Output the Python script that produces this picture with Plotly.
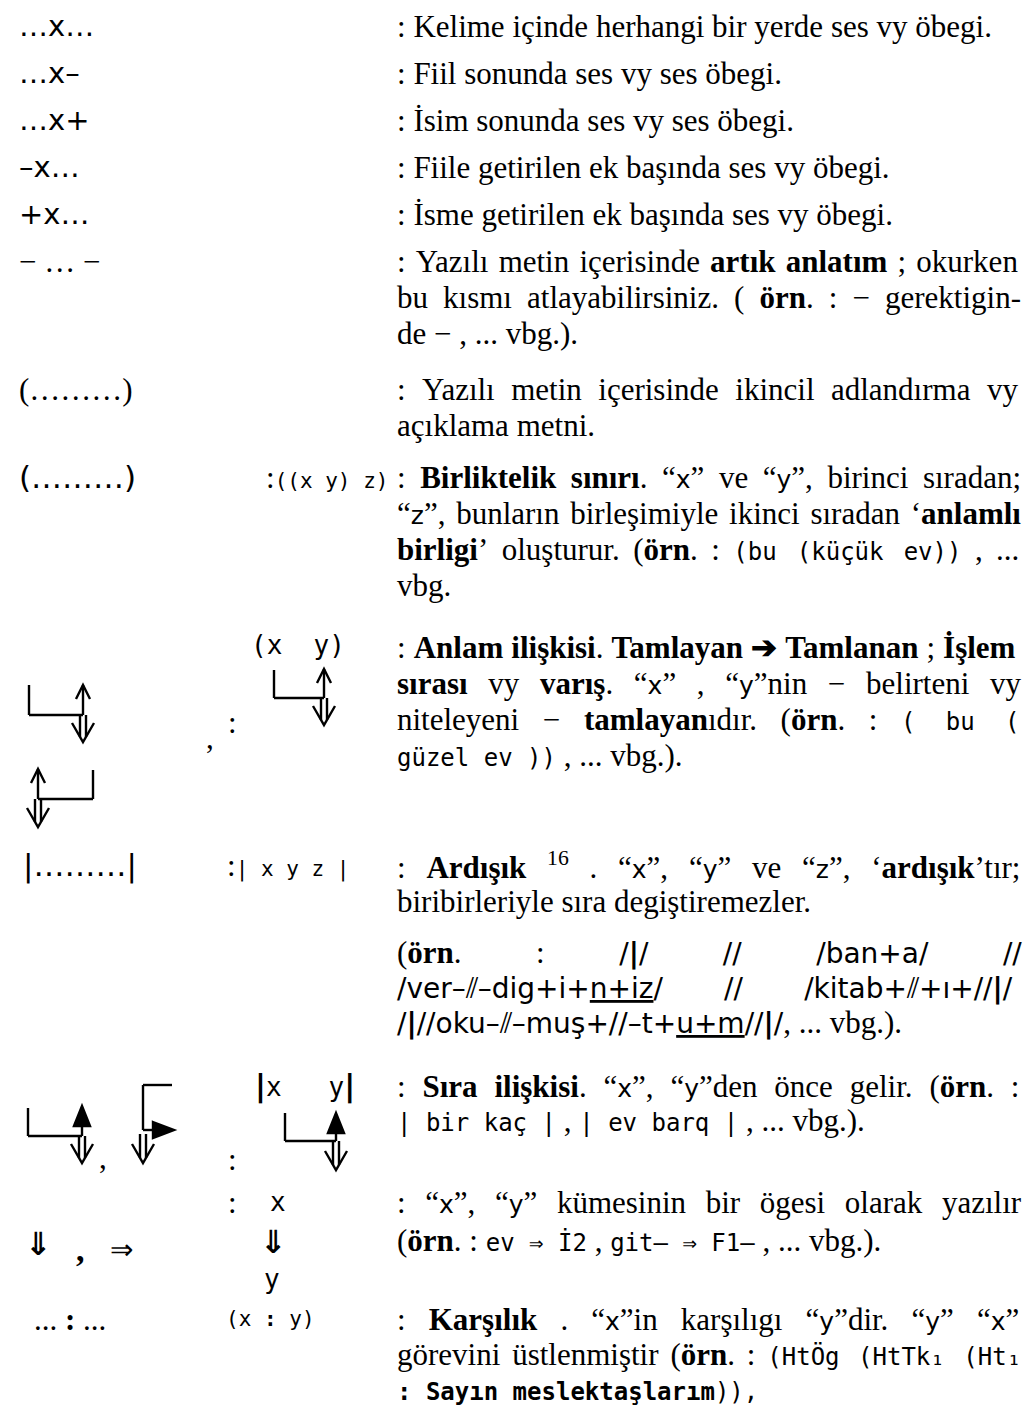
import re
import plotly.graph_objects as go

# ---------------------------------------------------------------- content
left_symbols = ["…x…", "…x–", "…x+", "–x…", "+x…", "− … −", "(………)", "(………)", "|………|"]
mid_row8 = ":((x y) z)"
mid_row10 = ":| x y z |"
mid_row9 = "(x\u00a0\u00a0y)"
mid_row11 = ("<span style=\"font-family:DejaVu Sans;font-weight:bold;font-size:30px\">|</span>"
             "x\u00a0\u00a0\u00a0y"
             "<span style=\"font-family:DejaVu Sans;font-weight:bold;font-size:30px\">|</span>")
mid_row12 = ["x", "⇓", "y"]
mid_row13 = "(x <b>:</b> y)"
left_row13 = "... <b>:</b> ..."

# inline markup: {b:bold} {s:sans} {m:mono} {M:mono bold} {c:example font}
# {cb:example font heavy} {cu:example font underlined} {sup:superscript}
paragraphs = [
    [": Kelime içinde herhangi bir yerde ses vy öbegi."],
    [": Fiil sonunda ses vy ses öbegi."],
    [": İsim sonunda ses vy ses öbegi."],
    [": Fiile getirilen ek başında ses vy öbegi."],
    [": İsme getirilen ek başında ses vy öbegi."],
    [": Yazılı metin içerisinde {b:artık anlatım} ; okurken",
     "bu kısmı atlayabilirsiniz. ( {b:örn}. : − gerektigin-",
     "de − , ... vbg.)."],
    [": Yazılı metin içerisinde ikincil adlandırma vy",
     "açıklama metni."],
    [": {b:Birliktelik sınırı}. “{s:x}” ve “{s:y}”, birinci sıradan;",
     "“{s:z}”, bunların birleşimiyle ikinci sıradan ‘{b:anlamlı}",
     "{b:birligi}’ oluşturur. ({b:örn}. : {m:(bu (küçük ev))} , ...",
     "vbg."],
    [": {b:Anlam ilişkisi}. {b:Tamlayan ➔ Tamlanan} ; {b:İşlem}",
     "{b:sırası} vy {b:varış}. “{s:x}” , “{s:y}”nin − belirteni vy",
     "niteleyeni − {b:tamlayan}ıdır. ({b:örn}. : {m:( bu (}",
     "{m:güzel ev ))} , ... vbg.)."],
    [": {b:Ardışık} {sup:16} . “{s:x}”, “{s:y}” ve “{s:z}”, ‘{b:ardışık}’tır;",
     "biribirleriyle sıra degiştiremezler."],
    ["({b:örn}. : {c:/}{cb:|}{c:/} {c://} {c:/ban+a/} {c://}",
     "{c:/ver–⫽–dig+i+}{cu:n+iz}{c:/} {c://} {c:/kitab+⫽+ı+//}{cb:|}{c:/}",
     "{c:/}{cb:|}{c://oku–⫽–muş+//–t+}{cu:u+m}{c://}{cb:|}{c:/}, ... vbg.)."],
    [": {b:Sıra ilişkisi}. “{s:x}”, “{s:y}”den önce gelir. ({b:örn}. :",
     "{m:| bir kaç |} , {m:| ev barq |} , ... vbg.)."],
    [": “{s:x}”, “{s:y}” kümesinin bir ögesi olarak yazılır",
     "({b:örn}. : {m:ev ⇒ İ2} , {m:git– ⇒ F1–} , ... vbg.)."],
    [": {b:Karşılık} . “{s:x}”in karşılıgı “{s:y}”dir. “{s:y}” “{s:x}”",
     "görevini üstlenmiştir ({b:örn}. : {m:(HtÖg (HtTk₁ (Ht₁}",
     "{M:: Sayın meslektaşlarım}{m:)),}"],
]

# ---------------------------------------------------------------- layout
W, H = 1032, 1410
X_COL = 388
X_RIGHT = 1012
S = 31          # serif body size
MS = 24         # inline mono size
MID = 21        # mono size in the middle column
SS = 25         # inline sans size
CS = 28         # example-line sans size
LW = 2.4
TEXT_DY = -9    # annotation box centre sits a little above the glyph centre

line_y = [
    [27], [74], [121], [168], [215],
    [262, 298, 334],
    [390, 426],
    [478, 514, 550, 586],
    [648, 684, 720, 756],
    [866, 902],
    [953, 988, 1023],
    [1087, 1121],
    [1203, 1241],
    [1320, 1355, 1390],
]

SERIF = "Liberation Serif"
SANS = "DejaVu Sans"
MONO = "DejaVu Sans Mono"

SERIF_W = {' ': .25, '!': .333, '(': .333, ')': .333, '+': .564, ',': .25, '-': .333, '.': .25,
           '/': .278, ':': .278, ';': .278, 'A': .722, 'B': .667, 'C': .667, 'D': .722, 'E': .611,
           'F': .556, 'G': .722, 'H': .722, 'I': .333, 'İ': .333, 'K': .722, 'L': .611, 'M': .889,
           'N': .722, 'O': .722, 'Ö': .722, 'P': .556, 'R': .667, 'S': .556, 'Ş': .556, 'T': .611,
           'U': .722, 'V': .722, 'Y': .722, 'Z': .611, 'a': .444, 'b': .5, 'c': .444, 'ç': .444,
           'd': .5, 'e': .444, 'f': .333, 'g': .5, 'ğ': .5, 'h': .5, 'i': .278, 'ı': .278, 'j': .278,
           'k': .5, 'l': .278, 'm': .778, 'n': .5, 'o': .5, 'ö': .5, 'p': .5, 'q': .5, 'r': .333,
           's': .389, 'ş': .389, 't': .278, 'u': .5, 'ü': .5, 'v': .5, 'w': .722, 'x': .5, 'y': .5,
           'z': .444, '“': .444, '”': .444, '‘': .333, '’': .333, '−': .564, '–': .5, '…': 1.0}
BOLD_W = {' ': .25, '.': .25, ',': .25, ':': .333, ';': .333, '’': .333, '‘': .333, '(': .333,
          ')': .333, 'A': .722, 'B': .667, 'I': .389, 'İ': .389, 'K': .778, 'S': .556, 'T': .667,
          'a': .5, 'b': .556, 'c': .444, 'ç': .444, 'd': .556, 'e': .444, 'g': .5, 'h': .556,
          'i': .278, 'ı': .278, 'k': .556, 'l': .278, 'm': .833, 'n': .556, 'o': .5, 'ö': .5,
          'r': .444, 's': .389, 'ş': .389, 't': .333, 'u': .556, 'v': .5, 'y': .5, 'z': .444,
          '➔': .838}
SANS_W = {' ': .318, '(': .39, ')': .39, '+': .838, ',': .318, '-': .361, '.': .318, '/': .337,
          ':': .337, '|': .337, 'a': .613, 'b': .635, 'c': .55, 'd': .635, 'e': .615, 'g': .635,
          'i': .278, 'ı': .278, 'k': .579, 'm': .974, 'n': .634, 'o': .612, 'r': .411, 's': .521,
          'ş': .521, 't': .392, 'u': .634, 'v': .592, 'x': .592, 'y': .592, 'z': .525, '–': .5,
          '…': 1.0, '⫽': .6}

CSS = {
    's': f"font-family:{SANS};font-size:{SS}px",
    'm': f"font-family:{MONO};font-size:{MS}px",
    'M': f"font-family:{MONO};font-size:{MS}px;font-weight:bold",
    'c': f"font-family:{SANS};font-size:{CS}px",
    'cb': f"font-family:{SANS};font-size:{CS}px;font-weight:bold",
    'cu': f"font-family:{SANS};font-size:{CS}px;text-decoration:underline",
}


def cw(ch, st):
    if st == 'r':
        return SERIF_W.get(ch, .5) * S
    if st == 'b':
        return BOLD_W.get(ch, .5) * S
    if st in ('m', 'M'):
        return .602 * MS
    if st == 's':
        return SANS_W.get(ch, .6) * SS
    if st in ('c', 'cb', 'cu'):
        return SANS_W.get(ch, .6) * CS
    if st == 'sup':
        return .5 * S * .7
    return .5 * S


TAG = re.compile(r'\{(\w+):([^{}]*)\}')


def tokens(markup):
    out, pos = [], 0
    for m in TAG.finditer(markup):
        out += [(ch, 'r') for ch in markup[pos:m.start()]]
        out += [(ch, m.group(1)) for ch in m.group(2)]
        pos = m.end()
    out += [(ch, 'r') for ch in markup[pos:]]
    return out


def words_of(toks):
    words, gaps, cur, gap = [], [], [], 0.0
    for ch, st in toks:
        if ch == ' ':
            if cur:
                words.append(cur)
                cur = []
                gap = 0.0
            gap += cw(' ', st)
        else:
            if not cur and words:
                gaps.append(gap)
            cur.append((ch, st))
    if cur:
        words.append(cur)
    return words, gaps


def word_html(word):
    runs = []
    for ch, st in word:
        if runs and runs[-1][1] == st:
            runs[-1][0] += ch
        else:
            runs.append([ch, st])
    out = ''
    for txt, st in runs:
        if st == 'r':
            out += txt
        elif st == 'b':
            out += f'<b>{txt}</b>'
        elif st == 'sup':
            out += f'<sup>{txt}</sup>'
        else:
            out += f'<span style="{CSS[st]}">{txt}</span>'
    return out


annotations = []
shapes = []


def add_text(x, y, s, family=SERIF, size=S, xanchor='left'):
    annotations.append(dict(x=x, y=y + TEXT_DY, xref='x', yref='y', text=s, showarrow=False,
                            xanchor=xanchor, yanchor='middle', borderpad=0,
                            font=dict(family=family, size=size, color='black')))


def add_line(markup, y, justify):
    words, gaps = words_of(tokens(markup))
    widths = [sum(cw(c, st) for c, st in w) for w in words]
    natural = sum(widths) + sum(gaps)
    extra = (X_RIGHT - X_COL - natural) / len(gaps) if (justify and gaps) else 0.0
    base_space = SERIF_W[' '] * S
    html = word_html(words[0])
    for g, w in zip(gaps, words[1:]):
        ls = g + extra - base_space
        html += f'<span style="letter-spacing:{ls:.2f}px"> </span>' + word_html(w)
    add_text(X_COL, y, html)


for para, ys in zip(paragraphs, line_y):
    for i, (ln, y) in enumerate(zip(para, ys)):
        add_line(ln, y, justify=(i < len(para) - 1))

# ---------------------------------------------------------------- left / middle column text
row_first_y = [ys[0] for ys in line_y]
for i in range(5):
    add_text(10, row_first_y[i], left_symbols[i], SANS, 29)
add_text(10, row_first_y[5], left_symbols[5], SERIF, S)
add_text(10, row_first_y[6], left_symbols[6], SERIF, S)
add_text(10, row_first_y[7], left_symbols[7], SANS, 31)
add_text(257, row_first_y[7], ":" + f'<span style="font-family:{MONO};font-size:{MID}px">{mid_row8[1:]}</span>', SERIF, S)
add_text(14, row_first_y[9], left_symbols[8], SANS, 31)
add_text(218, row_first_y[9], ":" + f'<span style="font-family:{MONO};font-size:{MID}px">{mid_row10[1:]}</span>', SERIF, S)

add_text(242, 646, mid_row9, MONO, 26)
add_text(202, 738, ",", SERIF, S, 'center')
add_text(224, 723, ":", SERIF, S, 'center')
add_text(246, 1087, mid_row11, MONO, 26)
add_text(95, 1158, ",", SERIF, S, 'center')
add_text(224, 1160, ":", SERIF, S, 'center')
add_text(224, 1203, ":", SERIF, S, 'center')
add_text(270, 1203, mid_row12[0], MONO, 26, 'center')
add_text(265, 1243, "<b>" + mid_row12[1] + "</b>", SANS, 32, 'center')
add_text(264, 1280, mid_row12[2], MONO, 26, 'center')
add_text(30, 1245, "<b>⇓</b>", SANS, 32, 'center')
add_text(72, 1250, "<b>,</b>", SERIF, 34, 'center')
add_text(113, 1250, "⇒", SERIF, 28, 'center')
add_text(62, 1320, left_row13, SERIF, S, 'center')
add_text(217, 1320, mid_row13, MONO, MID)


# ---------------------------------------------------------------- drawn arrows
def seg(x0, y0, x1, y1):
    shapes.append(dict(type='line', xref='x', yref='y', x0=x0, y0=y0, x1=x1, y1=y1,
                       line=dict(color='black', width=LW)))


def pth(d, fill=None):
    shapes.append(dict(type='path', xref='x', yref='y', path=d,
                       line=dict(color='black', width=LW),
                       fillcolor=fill if fill else 'rgba(0,0,0,0)'))


def up_open(x, yb, yt):
    seg(x, yb, x, yt)
    pth(f'M {x-7},{yt+14} L {x},{yt} L {x+7},{yt+14}')


def up_filled(x, yb, yt):
    seg(x, yb, x, yt + 16)
    pth(f'M {x-8},{yt+20} L {x},{yt} L {x+8},{yt+20} Z', 'black')


def right_filled(xl, y, xr):
    seg(xl, y, xr - 16, y)
    pth(f'M {xr-21},{y-8} L {xr},{y} L {xr-21},{y+8} Z', 'black')


def down_double(x, yt, yb):
    seg(x - 3, yt, x - 3, yb - 5)
    seg(x + 3, yt, x + 3, yb - 5)
    pth(f'M {x-11},{yb-19} L {x},{yb} L {x+11},{yb-19}')


seg(21, 677, 21, 707); seg(21, 707, 75, 707); up_open(75, 707, 677); down_double(75, 707, 734)
seg(85, 762, 85, 791); seg(30, 791, 85, 791); up_open(30, 791, 761); down_double(30, 791, 819)
seg(266, 662, 266, 690); seg(266, 690, 316, 690); up_open(316, 690, 661); down_double(316, 690, 717)
seg(20, 1100, 20, 1128); seg(20, 1128, 74, 1128); up_filled(74, 1128, 1098); down_double(74, 1128, 1155)
seg(135, 1077, 164, 1077); seg(135, 1077, 135, 1122); right_filled(135, 1122, 166); down_double(135, 1126, 1155)
seg(277, 1105, 277, 1133); seg(277, 1133, 328, 1133); up_filled(328, 1133, 1105); down_double(328, 1133, 1162)

fig = go.Figure()
fig.update_layout(width=W, height=H, margin=dict(l=0, r=0, t=0, b=0),
                  paper_bgcolor='white', plot_bgcolor='white', showlegend=False,
                  xaxis=dict(range=[0, W], visible=False, fixedrange=True),
                  yaxis=dict(range=[H, 0], visible=False, fixedrange=True),
                  annotations=annotations, shapes=shapes)
fig.write_html("out.html")
